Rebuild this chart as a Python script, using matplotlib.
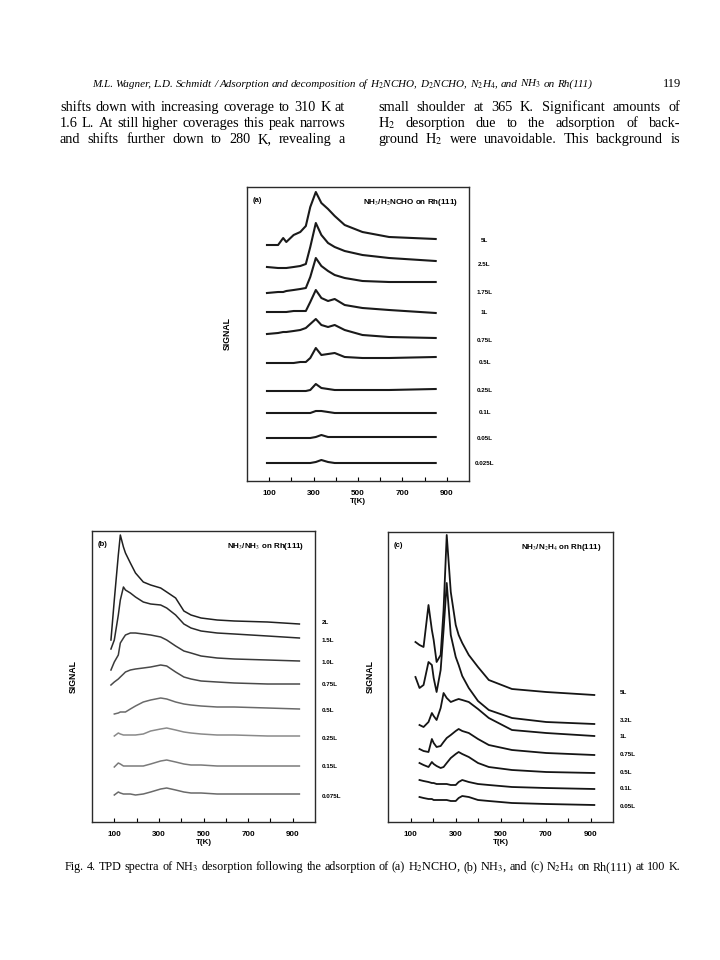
import numpy as np
import matplotlib
matplotlib.use("Agg")
import matplotlib.pyplot as plt
import matplotlib.transforms as mtransforms

plt.rcParams["font.family"] = ["Liberation Serif", "DejaVu Serif"]
plt.rcParams["mathtext.fontset"] = "stix"

W, H = 720, 960

# ============================================================
# Data (signal, arbitrary units)
# ============================================================
# (a) NH3 from H2NCHO
T_a = [90, 140, 163, 177, 210, 240, 265, 285, 310, 335, 365, 395, 440, 520, 640, 850]
a_5L = [236, 236, 243, 239, 246, 249, 255, 274, 289, 278, 272, 265, 256, 249, 244, 242]
a_2p5L = [214, 213, 213, 213, 214, 215, 217, 234, 258, 246, 238, 234, 230, 226, 223, 220]
a_1p75L = [188, 189, 189, 190, 191, 192, 193, 204, 223, 215, 210, 206, 203, 200, 199, 199]
a_1L = [169, 169, 169, 169, 170, 170, 170, 179, 191, 183, 180, 182, 176, 173, 171, 168]
a_0p75L = [147, 148, 149, 149, 150, 151, 153, 157, 162, 156, 154, 156, 151, 146, 144, 143]
a_0p5L = [118, 118, 118, 118, 118, 119, 119, 123, 133, 126, 127, 128, 124, 123, 123, 124]
a_0p25L = [90, 90, 90, 90, 90, 90, 90, 91, 97, 93, 92, 91, 91, 91, 91, 92]
a_0p1L = [68, 68, 68, 68, 68, 68, 68, 68, 70, 70, 69, 68, 68, 68, 68, 68]
a_0p05L = [43, 43, 43, 43, 43, 43, 43, 43, 44, 46, 44, 44, 44, 44, 44, 44]
a_0p025L = [18, 18, 18, 18, 18, 18, 18, 18, 19, 21, 19, 18, 18, 18, 18, 18]
a_labels = ["5L", "2.5L", "1.75L", "1L", "0.75L", "0.5L", "0.25L", "0.1L", "0.05L", "0.025L"]
a_label_y = [241, 216, 189, 169, 140, 118, 90, 68, 43, 18]

# (b) NH3 from NH3
T_b = [85, 100, 118, 127, 141, 150, 172, 195, 230, 263, 308, 335, 375, 412, 444, 489, 561, 638, 787, 930]
b_2L = [182, 222, 267, 287, 275, 269, 259, 249, 240, 237, 234, 230, 224, 211, 207, 204, 202, 201, 200, 198]
b_1p5L = [173, 182, 207, 222, 235, 232, 229, 225, 220, 218, 217, 214, 207, 198, 194, 191, 189, 188, 186, 184]
b_1p0L = [152, 160, 167, 179, 184, 187, 189, 189, 188, 187, 185, 182, 176, 171, 169, 166, 164, 163, 162, 161]
b_0p75L = [137, 140, 143, 145, 148, 150, 152, 153, 154, 155, 157, 156, 150, 145, 143, 141, 140, 139, 138, 138]
b_0p5L = [np.nan, 108, 109, 110, 110, 110, 113, 116, 120, 122, 124, 123, 120, 118, 117, 116, 115, 115, 114, 113]
b_0p25L = [np.nan, 86, 89, 88, 87, 87, 87, 87, 88, 91, 93, 94, 92, 90, 89, 88, 87, 87, 86, 86]
b_0p15L = [np.nan, 55, 59, 58, 56, 56, 56, 56, 56, 58, 61, 62, 60, 58, 57, 57, 56, 56, 56, 56]
b_0p075L = [np.nan, 27, 30, 29, 28, 28, 28, 27, 28, 30, 33, 34, 32, 30, 29, 29, 28, 28, 28, 28]
b_labels = ["2L", "1.5L", "1.0L", "0.75L", "0.5L", "0.25L", "0.15L", "0.075L"]
b_label_y = [199, 182, 160, 137, 112, 84, 55, 25]

# (c) NH3 from N2H4
T_c = [122, 140, 158, 180, 195, 203, 216, 234, 247, 261, 279, 301, 314, 330, 359, 400, 448, 551, 703, 917]
c_5L = [180, 177, 175, 217, 192, 182, 160, 167, 212, 287, 230, 197, 187, 179, 167, 155, 142, 133, 130, 127]
c_3p2L = [145, 134, 137, 160, 157, 144, 130, 152, 192, 239, 187, 165, 157, 146, 134, 121, 112, 104, 100, 98]
c_1L = [np.nan, 97, 95, 100, 109, 106, 102, 114, 129, 124, 120, 122, 123, 122, 120, 113, 104, 92, 89, 86]
c_0p75L = [np.nan, 73, 71, 70, 83, 79, 75, 76, 80, 84, 87, 91, 93, 91, 89, 83, 77, 72, 69, 67]
c_0p5L = [np.nan, 59, 57, 55, 60, 58, 56, 54, 55, 59, 64, 68, 70, 68, 65, 59, 55, 52, 50, 49]
c_0p1L = [np.nan, 42, 41, 40, 39, 39, 38, 38, 38, 38, 37, 37, 40, 42, 40, 38, 37, 35, 34, 33]
c_0p05L = [np.nan, 25, 24, 23, 23, 22, 22, 22, 22, 22, 21, 21, 24, 26, 25, 22, 21, 19, 18, 17]
c_labels = ["5L", "3.2L", "1L", "0.75L", "0.5L", "0.1L", "0.05L"]
c_label_y = [129, 102, 85, 67, 49, 33, 16]

tick_T = list(range(100, 1000, 100))
tick_lab = ["100", "", "300", "", "500", "", "700", "", "900"]

# ============================================================
# Figure
# ============================================================
fig = plt.figure(figsize=(7.2, 9.6), dpi=100, facecolor="white")
rend = fig.canvas.get_renderer()


def put_line(x0, x1, y, s, **kw):
    # justified line of text between pixel x0 and x1, baseline at pixel y
    words = s.split(" ")
    widths = []
    for w in words:
        t = fig.text(0, 0, w, **kw)
        widths.append(t.get_window_extent(renderer=rend).width)
        t.remove()
    min_gap = 0.2 * kw.get("fontsize", 10) * 100 / 72
    gap = max((x1 - x0 - sum(widths)) / max(len(words) - 1, 1), min_gap)
    x = x0
    for w, wd in zip(words, widths):
        fig.text(x / W, 1 - y / H, w, va="baseline", ha="left", **kw)
        x += wd + gap


def px_axes(l, t, r, b):
    return fig.add_axes([l / W, 1 - b / H, (r - l) / W, (b - t) / H])


# page header
put_line(92, 592, 87, "M.L. Wagner, L.D. Schmidt / Adsorption and decomposition of "
         "H$_2$NCHO, D$_2$NCHO, N$_2$H$_4$, and NH$_3$ on Rh(111)",
         fontsize=8.0, style="italic")
fig.text(681 / W, 1 - 87 / H, "119", fontsize=9, ha="right", va="baseline")

# body text
left_col = ["shifts down with increasing coverage to 310 K at",
            "1.6 L. At still higher coverages this peak narrows",
            "and shifts further down to 280 K, revealing a"]
right_col = ["small shoulder at 365 K. Significant amounts of",
             "H$_2$ desorption due to the adsorption of back-",
             "ground H$_2$ were unavoidable. This background is"]
for i, (ln, rn) in enumerate(zip(left_col, right_col)):
    yb = 111 + 16 * i
    put_line(60, 345, yb, ln, fontsize=10.3)
    put_line(378, 680, yb, rn, fontsize=10.3)

# caption
put_line(65, 680, 870, "Fig. 4. TPD spectra of NH$_3$ desorption following the adsorption of "
         "(a) H$_2$NCHO, (b) NH$_3$, and (c) N$_2$H$_4$ on Rh(111) at 100 K.",
         fontsize=8.7)

sans = dict(family=["Liberation Sans", "DejaVu Sans"], fontweight="bold")


def style_panel(ax, tag, title, ylim, sig_x):
    ax.set_xlim(0, 1000)
    ax.set_ylim(0, ylim)
    ax.set_xticks(tick_T)
    ax.set_xticklabels(tick_lab, fontsize=5.8, **sans)
    ax.set_yticks([])
    ax.tick_params(axis="x", direction="in", length=3, width=0.8, pad=6.5, top=False)
    for sp in ax.spines.values():
        sp.set_linewidth(1.0)
        sp.set_color("#2a2a2a")
    ax.set_xlabel("T(K)", fontsize=5.8, labelpad=0.5, **sans)
    ax.text(0.025, 0.965, tag, transform=ax.transAxes, ha="left", va="top",
            fontsize=5.5, **sans)
    ax.text(0.95, 0.965, title, transform=ax.transAxes, ha="right", va="top",
            fontsize=5.8, **sans)
    ax.text(sig_x, 0.5, "SIGNAL", transform=ax.transAxes, rotation=90,
            ha="center", va="center", fontsize=6.2, **sans)


# ---------------- (a) ----------------
ax_a = px_axes(247, 187, 469, 481)
for ys in [a_5L, a_2p5L, a_1p75L, a_1L, a_0p75L, a_0p5L, a_0p25L, a_0p1L, a_0p05L, a_0p025L]:
    ax_a.plot(T_a, ys, color="#1a1a1a", lw=1.5)
style_panel(ax_a, "(a)", "NH$_3$/H$_2$NCHO on Rh(111)", 294, -0.09)
tr = mtransforms.blended_transform_factory(ax_a.transAxes, ax_a.transData)
for lab, yy in zip(a_labels, a_label_y):
    ax_a.text(1.07, yy, lab, transform=tr, ha="center", va="center",
              fontsize=4.5, clip_on=False, **sans)

# ---------------- (b) ----------------
ax_b = px_axes(92, 531, 315, 822)
b_series = [b_2L, b_1p5L, b_1p0L, b_0p75L, b_0p5L, b_0p25L, b_0p15L, b_0p075L]
b_cols = ["#202020", "#2a2a2a", "#3a3a3a", "#4a4a4a", "#6a6a6a", "#8a8a8a", "#7a7a7a", "#6a6a6a"]
for ys, c in zip(b_series, b_cols):
    ax_b.plot(T_b, ys, color=c, lw=1.1)
style_panel(ax_b, "(b)", "NH$_3$/NH$_3$ on Rh(111)", 291, -0.085)
tr = mtransforms.blended_transform_factory(ax_b.transAxes, ax_b.transData)
for lab, yy in zip(b_labels, b_label_y):
    ax_b.text(1.03, yy, lab, transform=tr, ha="left", va="center",
              fontsize=4.5, clip_on=False, **sans)

# ---------------- (c) ----------------
ax_c = px_axes(388, 532, 613, 822)
for ys in [c_5L, c_3p2L, c_1L, c_0p75L, c_0p5L, c_0p1L, c_0p05L]:
    ax_c.plot(T_c, ys, color="#151515", lw=1.3)
style_panel(ax_c, "(c)", "NH$_3$/N$_2$H$_4$ on Rh(111)", 290, -0.08)
tr = mtransforms.blended_transform_factory(ax_c.transAxes, ax_c.transData)
for lab, yy in zip(c_labels, c_label_y):
    ax_c.text(1.03, yy, lab, transform=tr, ha="left", va="center",
              fontsize=4.5, clip_on=False, **sans)

fig.savefig("out.png", dpi=100, facecolor="white")
print("Saved out.png")
